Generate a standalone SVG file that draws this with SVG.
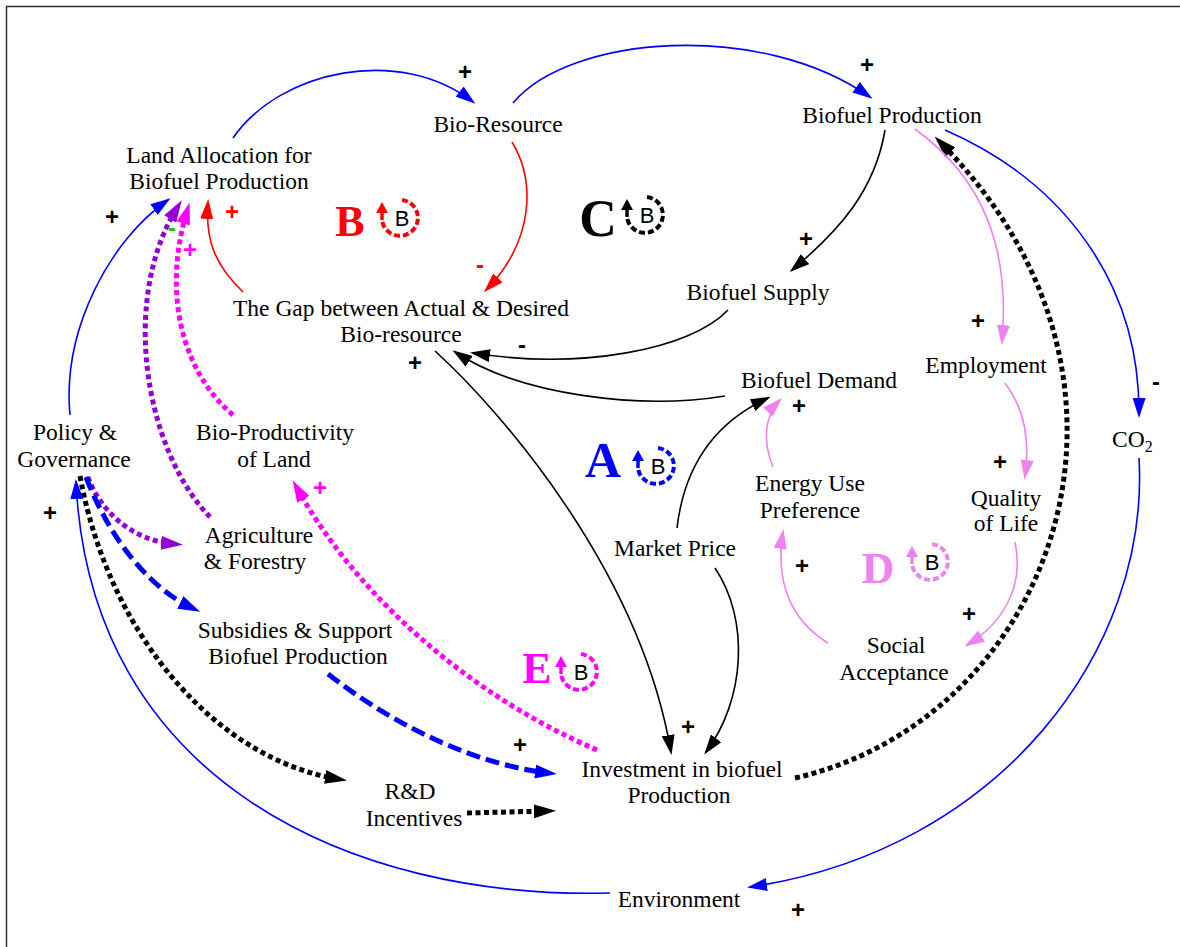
<svg xmlns="http://www.w3.org/2000/svg" xmlns:xlink="http://www.w3.org/1999/xlink" width="1180" height="947" viewBox="0 0 1180 947">
<style>
.n{font-family:"Liberation Serif","Times New Roman",serif;font-size:23.5px;fill:#000;text-anchor:middle}
.s{font-family:"Liberation Sans",Arial,sans-serif;font-size:24px;font-weight:bold;text-anchor:middle}
.L{font-family:"Liberation Serif","Times New Roman",serif;font-weight:bold;text-anchor:middle}
.c{fill:none}
.thin{stroke-width:1.6}
.dot{stroke-width:5;stroke-dasharray:5 3.5}
.dash{stroke-width:5;stroke-dasharray:14 6}
</style>
<defs>
<marker id="aBk" markerWidth="20" markerHeight="13" refX="17" refY="6.5" orient="auto" markerUnits="userSpaceOnUse" viewBox="0 0 20 13"><path d="M0,0 L20,6.5 L0,13 z" fill="#000"/></marker>
<marker id="aBl" markerWidth="20" markerHeight="13" refX="17" refY="6.5" orient="auto" markerUnits="userSpaceOnUse" viewBox="0 0 20 13"><path d="M0,0 L20,6.5 L0,13 z" fill="#0000ff"/></marker>
<marker id="aRd" markerWidth="20" markerHeight="13" refX="17" refY="6.5" orient="auto" markerUnits="userSpaceOnUse" viewBox="0 0 20 13"><path d="M0,0 L20,6.5 L0,13 z" fill="#ff0000"/></marker>
<marker id="aVi" markerWidth="20" markerHeight="13" refX="17" refY="6.5" orient="auto" markerUnits="userSpaceOnUse" viewBox="0 0 20 13"><path d="M0,0 L20,6.5 L0,13 z" fill="#ee82ee"/></marker>
<marker id="tBk" markerWidth="22" markerHeight="14" refX="13" refY="7" orient="auto" markerUnits="userSpaceOnUse" viewBox="0 0 22 14"><path d="M0,0 L22,7 L0,14 z" fill="#000"/></marker>
<marker id="tBl" markerWidth="22" markerHeight="14" refX="13" refY="7" orient="auto" markerUnits="userSpaceOnUse" viewBox="0 0 22 14"><path d="M0,0 L22,7 L0,14 z" fill="#0000ff"/></marker>
<marker id="tPu" markerWidth="22" markerHeight="14" refX="13" refY="7" orient="auto" markerUnits="userSpaceOnUse" viewBox="0 0 22 14"><path d="M0,0 L22,7 L0,14 z" fill="#9400d3"/></marker>
<marker id="tMg" markerWidth="22" markerHeight="14" refX="13" refY="7" orient="auto" markerUnits="userSpaceOnUse" viewBox="0 0 22 14"><path d="M0,0 L22,7 L0,14 z" fill="#ff00ff"/></marker>
<g id="loop">
<path d="M2,-18 A18 18 0 1 1 -18,2" fill="none" stroke="currentColor" stroke-width="4" stroke-dasharray="6 3"/>
<path d="M-18,2 L-18,-7" fill="none" stroke="currentColor" stroke-width="3.5"/>
<path d="M-24,-5 L-18,-16 L-12,-5 z" fill="currentColor"/>
<text x="2" y="8" font-family="Liberation Sans,Arial,sans-serif" font-size="22" text-anchor="middle" fill="#000">B</text>
</g>
</defs>
<rect x="0" y="0" width="1180" height="947" fill="#fff"/>
<rect x="6.5" y="6.5" width="1185" height="950" fill="none" stroke="#333" stroke-width="1.5"/>

<g id="connectors">
<path class="c thin" stroke="#0000ff" d="M233,138 C 280,70 400,45 473,102" marker-end="url(#aBl)"/>
<path class="c thin" stroke="#0000ff" d="M513,103 C 570,35 760,20 870,97" marker-end="url(#aBl)"/>
<path class="c thin" stroke="#ff0000" d="M512,142 C 535,180 535,240 486,290" marker-end="url(#aRd)"/>
<path class="c thin" stroke="#ff0000" d="M243,292 C 215,265 205,240 208,202" marker-end="url(#aRd)"/>
<path class="c thin" stroke="#0000ff" d="M70,415 C 62,330 110,240 168,200" marker-end="url(#aBl)"/>
<path class="c dot" stroke="#9400d3" d="M210,517 C 145,450 120,300 177,208" marker-end="url(#tPu)"/>
<path class="c dot" stroke="#ff00ff" d="M233,415 C 180,370 163,290 187,211" marker-end="url(#tMg)"/>
<path class="c dot" stroke="#9400d3" d="M88,477 C 100,510 130,540 174,544" marker-end="url(#tPu)"/>
<path class="c dash" stroke="#0000ff" d="M86,477 C 110,540 150,588 192,608" marker-end="url(#tBl)"/>
<path class="c dot" stroke="#000" d="M80,476 C 110,640 220,760 338,779" marker-end="url(#tBk)"/>
<path class="c dash" stroke="#0000ff" d="M328,674 C 400,730 480,765 548,773" marker-end="url(#tBl)"/>
<path class="c dot" stroke="#000" d="M467,813 L547,811" marker-end="url(#tBk)"/>
<path class="c dot" stroke="#ff00ff" d="M597,750 C 480,700 362,605 297,488" marker-end="url(#tMg)"/>
<path class="c dot" stroke="#000" d="M795,778 C 1050,720 1180,385 941,143" marker-end="url(#tBk)"/>
<path class="c thin" stroke="#000" d="M885,130 C 875,190 840,230 792,270" marker-end="url(#aBk)"/>
<path class="c thin" stroke="#000" d="M728,310 C 690,350 580,370 473,353" marker-end="url(#aBk)"/>
<path class="c thin" stroke="#000" d="M725,396 C 640,410 520,395 455,352" marker-end="url(#aBk)"/>
<path class="c thin" stroke="#000" d="M435,351 C 500,410 640,570 671,752" marker-end="url(#aBk)"/>
<path class="c thin" stroke="#000" d="M715,568 C 750,620 745,700 706,752" marker-end="url(#aBk)"/>
<path class="c thin" stroke="#000" d="M677,528 C 685,460 720,420 768,398" marker-end="url(#aBk)"/>
<path class="c thin" stroke="#ee82ee" d="M773,467 C 762,440 765,415 780,400" marker-end="url(#aVi)"/>
<path class="c thin" stroke="#ee82ee" d="M828,643 C 790,620 775,580 783,532" marker-end="url(#aVi)"/>
<path class="c thin" stroke="#ee82ee" d="M1015,542 C 1025,590 1000,625 967,645" marker-end="url(#aVi)"/>
<path class="c thin" stroke="#ee82ee" d="M1005,383 C 1025,410 1030,440 1025,477" marker-end="url(#aVi)"/>
<path class="c thin" stroke="#ee82ee" d="M915,129 C 985,180 1010,250 1002,342" marker-end="url(#aVi)"/>
<path class="c thin" stroke="#0000ff" d="M945,130 C 1060,180 1140,280 1139,415" marker-end="url(#aBl)"/>
<path class="c thin" stroke="#0000ff" d="M1139,458 C 1150,650 1000,850 750,887" marker-end="url(#aBl)"/>
<path class="c thin" stroke="#0000ff" d="M610,893 C 350,900 90,780 76,482" marker-end="url(#aBl)"/>
</g>

<g id="signs">
<text class="s" x="465" y="80" fill="#000">+</text>
<text class="s" x="867" y="73" fill="#000">+</text>
<text class="s" x="232" y="220" fill="#ff0000" font-size="18">+</text>
<text class="s" x="172" y="236" fill="#00cc00" font-size="18">-</text>
<text class="s" x="190" y="258" fill="#ff00ff" font-size="18">+</text>
<text class="s" x="112" y="225" fill="#000">+</text>
<text class="s" x="480" y="273" fill="#ff0000" font-size="20">-</text>
<text class="s" x="806" y="247" fill="#000" font-size="21">+</text>
<text class="s" x="522" y="353" fill="#000">-</text>
<text class="s" x="415" y="371" fill="#000" font-size="21">+</text>
<text class="s" x="978" y="329" fill="#000" font-size="21">+</text>
<text class="s" x="799" y="414" fill="#000" font-size="21">+</text>
<text class="s" x="1156" y="390" fill="#000">-</text>
<text class="s" x="1000" y="470" fill="#000" font-size="21">+</text>
<text class="s" x="320" y="496" fill="#ff00ff" font-size="21">+</text>
<text class="s" x="50" y="521" fill="#000">+</text>
<text class="s" x="802" y="574" fill="#000" font-size="21">+</text>
<text class="s" x="969" y="622" fill="#000" font-size="21">+</text>
<text class="s" x="520" y="753" fill="#000" font-size="21">+</text>
<text class="s" x="688" y="735" fill="#000" font-size="21">+</text>
<text class="s" x="798" y="918" fill="#000">+</text>
</g>

<g id="loopB"><text class="L" x="350" y="236" font-size="44" fill="#ff0000">B</text><use xlink:href="#loop" href="#loop" x="400" y="218" style="color:#ff0000"/></g>
<g id="loopC"><text class="L" x="598" y="236" font-size="52" fill="#000">C</text><use xlink:href="#loop" href="#loop" x="645" y="215" style="color:#000"/></g>
<g id="loopA"><text class="L" x="603" y="477" font-size="50" fill="#0000ff">A</text><use xlink:href="#loop" href="#loop" x="656" y="466" style="color:#0000ff"/></g>
<g id="loopD"><text class="L" x="878" y="583" font-size="45" fill="#ee82ee">D</text><use xlink:href="#loop" href="#loop" x="930" y="562" style="color:#ee82ee"/></g>
<g id="loopE"><text class="L" x="537" y="683" font-size="44" fill="#ff00ff">E</text><use xlink:href="#loop" href="#loop" x="579" y="672" style="color:#ff00ff"/></g>

<g id="land-allocation"><text class="n" x="219" y="163">Land Allocation for</text><text class="n" x="219" y="189">Biofuel Production</text></g>
<g id="bio-resource"><text class="n" x="498" y="132">Bio-Resource</text></g>
<g id="biofuel-production"><text class="n" x="892" y="123">Biofuel Production</text></g>
<g id="gap"><text class="n" x="401" y="316">The Gap between Actual &amp; Desired</text><text class="n" x="401" y="342">Bio-resource</text></g>
<g id="biofuel-supply"><text class="n" x="758" y="300">Biofuel Supply</text></g>
<g id="employment"><text class="n" x="986" y="373">Employment</text></g>
<g id="biofuel-demand"><text class="n" x="819" y="388">Biofuel Demand</text></g>
<g id="policy"><text class="n" x="75" y="440">Policy &amp;</text><text class="n" x="74" y="467">Governance</text></g>
<g id="bio-productivity"><text class="n" x="275" y="440">Bio-Productivity</text><text class="n" x="274" y="467">of Land</text></g>
<g id="co2"><text class="n" x="1112" y="447" style="text-anchor:start">CO<tspan font-size="16" dy="5">2</tspan></text></g>
<g id="energy-use"><text class="n" x="810" y="491">Energy Use</text><text class="n" x="810" y="518">Preference</text></g>
<g id="quality"><text class="n" x="1006" y="506">Quality</text><text class="n" x="1006" y="531">of Life</text></g>
<g id="market-price"><text class="n" x="675" y="556">Market Price</text></g>
<g id="agriculture"><text class="n" x="259" y="543">Agriculture</text><text class="n" x="255" y="569">&amp; Forestry</text></g>
<g id="subsidies"><text class="n" x="295" y="638">Subsidies &amp; Support</text><text class="n" x="298" y="664">Biofuel Production</text></g>
<g id="social"><text class="n" x="896" y="653">Social</text><text class="n" x="894" y="680">Acceptance</text></g>
<g id="investment"><text class="n" x="682" y="777">Investment in biofuel</text><text class="n" x="679" y="803">Production</text></g>
<g id="rd"><text class="n" x="410" y="799">R&amp;D</text><text class="n" x="414" y="826">Incentives</text></g>
<g id="environment"><text class="n" x="679" y="907">Environment</text></g>
</svg>
